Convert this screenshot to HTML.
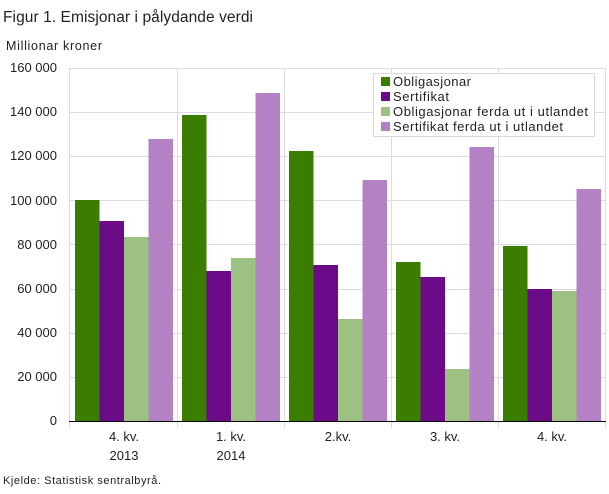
<!DOCTYPE html>
<html><head><meta charset="utf-8"><style>
body{margin:0;background:#fff;}
svg text{font-family:"Liberation Sans",sans-serif;fill:#222;}
</style></head><body>
<svg width="609" height="489" viewBox="0 0 609 489" xmlns="http://www.w3.org/2000/svg">
<text x="3" y="22" font-size="15.5" textLength="250">Figur 1. Emisjonar i pålydande verdi</text>
<text x="6" y="50" font-size="12.5" textLength="96">Millionar  kroner</text>
<g stroke="#dcdcdc" stroke-width="1">
<line x1="70" y1="68.5" x2="606" y2="68.5"/>
<line x1="70" y1="112.5" x2="606" y2="112.5"/>
<line x1="70" y1="156.5" x2="606" y2="156.5"/>
<line x1="70" y1="200.5" x2="606" y2="200.5"/>
<line x1="70" y1="244.5" x2="606" y2="244.5"/>
<line x1="70" y1="289.5" x2="606" y2="289.5"/>
<line x1="70" y1="333.5" x2="606" y2="333.5"/>
<line x1="70" y1="377.5" x2="606" y2="377.5"/>
<line x1="69.5" y1="68" x2="69.5" y2="428"/>
<line x1="177.5" y1="68" x2="177.5" y2="428"/>
<line x1="284.5" y1="68" x2="284.5" y2="428"/>
<line x1="391.5" y1="68" x2="391.5" y2="428"/>
<line x1="498.5" y1="68" x2="498.5" y2="428"/>
<line x1="605.5" y1="68" x2="605.5" y2="428"/>
</g>
<g font-size="13" text-anchor="end">
<text x="57" y="72">160 000</text><text x="57" y="116">140 000</text><text x="57" y="160">120 000</text>
<text x="57" y="205">100 000</text><text x="57" y="249">80 000</text><text x="57" y="293">60 000</text>
<text x="57" y="337">40 000</text><text x="57" y="381">20 000</text><text x="57" y="425">0</text>
</g>
<g>
<rect x="75" y="200" width="24.5" height="221" fill="#3a7d00"/>
<rect x="99.5" y="221" width="24.5" height="200" fill="#6c0b87"/>
<rect x="124" y="237" width="24.5" height="184" fill="#9dc183"/>
<rect x="148.5" y="139" width="24.5" height="282" fill="#b481c5"/>

<rect x="182" y="115" width="24.5" height="306" fill="#3a7d00"/>
<rect x="206.5" y="271" width="24.5" height="150" fill="#6c0b87"/>
<rect x="231" y="258" width="24.5" height="163" fill="#9dc183"/>
<rect x="255.5" y="93" width="24.5" height="328" fill="#b481c5"/>

<rect x="289" y="151" width="24.5" height="270" fill="#3a7d00"/>
<rect x="313.5" y="265" width="24.5" height="156" fill="#6c0b87"/>
<rect x="338" y="319" width="24.5" height="102" fill="#9dc183"/>
<rect x="362.5" y="180" width="24.5" height="241" fill="#b481c5"/>

<rect x="396" y="262" width="24.5" height="159" fill="#3a7d00"/>
<rect x="420.5" y="277" width="24.5" height="144" fill="#6c0b87"/>
<rect x="445" y="369" width="24.5" height="52" fill="#9dc183"/>
<rect x="469.5" y="147" width="24.5" height="274" fill="#b481c5"/>

<rect x="503" y="246" width="24.5" height="175" fill="#3a7d00"/>
<rect x="527.5" y="289" width="24.5" height="132" fill="#6c0b87"/>
<rect x="552" y="291" width="24.5" height="130" fill="#9dc183"/>
<rect x="576.5" y="189" width="24.5" height="232" fill="#b481c5"/>
</g>
<line x1="69" y1="421.5" x2="606" y2="421.5" stroke="#000" stroke-width="1"/>
<g font-size="13" text-anchor="middle">
<text x="124" y="441">4. kv.</text><text x="124" y="460">2013</text>
<text x="231" y="441">1. kv.</text><text x="231" y="460">2014</text>
<text x="338" y="441">2.kv.</text>
<text x="445" y="441">3. kv.</text>
<text x="552" y="441">4. kv.</text>
</g>
<rect x="373.5" y="73.5" width="221" height="63" fill="#fff" stroke="#d8d8d8"/>
<g font-size="13">
<rect x="381" y="77" width="9" height="9" fill="#3a7d00"/><text x="393" y="86" textLength="78">Obligasjonar</text>
<rect x="381" y="92" width="9" height="9" fill="#6c0b87"/><text x="393" y="101" textLength="56">Sertifikat</text>
<rect x="381" y="107" width="9" height="9" fill="#9dc183"/><text x="393" y="116" textLength="195">Obligasjonar ferda ut i utlandet</text>
<rect x="381" y="122" width="9" height="9" fill="#b481c5"/><text x="393" y="131" textLength="170">Sertifikat ferda ut i utlandet</text>
</g>
<text x="3" y="484" font-size="11" textLength="158">Kjelde: Statistisk sentralbyrå.</text>
</svg>
</body></html>
